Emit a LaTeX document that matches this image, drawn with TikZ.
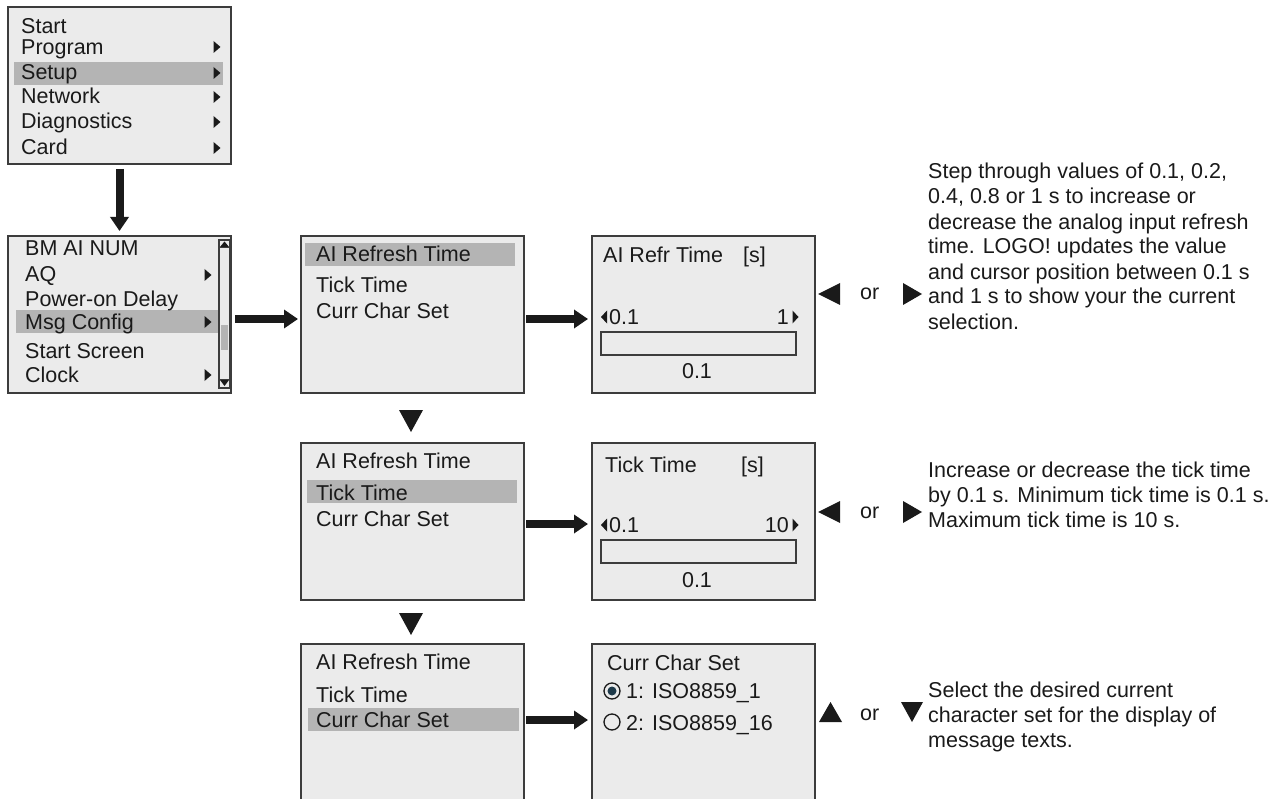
\documentclass[tikz,border=0pt]{standalone}
\usepackage{fontspec}
\setmainfont{Liberation Sans}
\usetikzlibrary{arrows.meta}
\definecolor{scr}{HTML}{EBEBEB}
\definecolor{hil}{HTML}{B4B4B4}
\definecolor{frm}{HTML}{3C3C3C}
\definecolor{ink}{HTML}{1A1A1A}
\definecolor{dotc}{HTML}{1E3A4A}
\begin{document}
\begin{tikzpicture}[x=1pt,y=-1pt,font=\fontsize{21.5}{25}\selectfont,
  screen/.style={draw=frm,line width=1.8pt,fill=scr,anchor=north west,inner sep=0pt,outer sep=0pt,minimum width=223pt,minimum height=157pt},
  txt/.style={anchor=base west,inner sep=0pt,text=ink},
  ctxt/.style={anchor=base,inner sep=0pt,text=ink},
  bigarrow/.style={draw=ink,line width=8pt,-{Triangle[width=18pt,length=14pt]}},
  hl/.style={fill=hil},
  tri/.style={fill=ink},
  bar/.style={draw=frm,line width=1.5pt,fill=scr},
  para/.style={anchor=base west,inner sep=0pt,align=left,text=ink,font=\fontsize{21.5}{25}\selectfont}]
\useasboundingbox[fill=white] (0,0) rectangle (1273,799);

% ---- screens
\node[screen] (b1) at (8,7) {};
\node[screen] (b2) at (8,236) {};
\node[screen] (b3) at (301,236) {};
\node[screen] (b4) at (592,236) {};
\node[screen] (b5) at (301,443) {};
\node[screen] (b6) at (592,443) {};
\node[screen] (b7) at (301,644) {};
\node[screen] (b8) at (592,644) {};

% ---- highlights
\fill[hl] (14,62) rectangle (223,85);
\fill[hl] (16,310) rectangle (218,333);
\fill[hl] (305,243) rectangle (515,266);
\fill[hl] (307,480) rectangle (517,503);
\fill[hl] (308,708) rectangle (519,731);

% ---- main menu
\node[txt] (m1) at (21,34) {Start};
\node[txt] (m2) at (21,55) {Program};
\node[txt] (m3) at (21,80) {Setup};
\node[txt] (m4) at (21,104) {Network};
\node[txt] (m5) at (21,129) {Diagnostics};
\node[txt] (m6) at (21,155) {Card};
\foreach \yy in {47,73,97,122,148}{
  \fill[tri] (213.5,\yy-6) -- (220.5,\yy) -- (213.5,\yy+6) -- cycle;}

% ---- setup menu
\node[txt] (s1) at (25,256) {BM AI NUM};
\node[txt] (s2) at (25,282) {AQ};
\node[txt] (s3) at (25,306) {Power-on Delay};
\node[txt] (s4) at (25,330) {Msg Config};
\node[txt] (s5) at (25,358) {Start Screen};
\node[txt] (s6) at (25,382) {Clock};
\foreach \yy in {275,322,375}{
  \fill[tri] (204.5,\yy-6) -- (211.5,\yy) -- (204.5,\yy+6) -- cycle;}
% scrollbar
\draw[frm,line width=1.2pt] (219,240) rectangle (230,388);
\fill[hil] (221,325) rectangle (228,350);
\draw[frm,line width=1pt] (219,248) -- (230,248);
\draw[frm,line width=1pt] (219,379) -- (230,379);
\fill[tri] (220,247) -- (229,247) -- (224.5,241.5) -- cycle;
\fill[tri] (220,380) -- (229,380) -- (224.5,386) -- cycle;

% ---- msg config menus
\node[txt] (a1) at (316,262) {AI Refresh Time};
\node[txt] (a2) at (316,293) {Tick Time};
\node[txt] (a3) at (316,318) {Curr Char Set};
\node[txt] (c1) at (316,468) {AI Refresh Time};
\node[txt] (c2) at (316,500) {Tick Time};
\node[txt] (c3) at (316,526) {Curr Char Set};
\node[txt] (d1) at (316,669) {AI Refresh Time};
\node[txt] (d2) at (316,702) {Tick Time};
\node[txt] (d3) at (316,727) {Curr Char Set};

% ---- AI Refr Time screen
\node[txt] (r1) at (603,263) {AI Refr Time};
\node[txt] (r2) at (743,263) {[s]};
\fill[tri] (607,310.5) -- (601,317) -- (607,323.5) -- cycle;
\node[txt] (r3) at (609,324) {0.1};
\node[anchor=base east,inner sep=0pt,text=ink] (r4) at (789,324) {1};
\fill[tri] (792.5,310.5) -- (798.5,317) -- (792.5,323.5) -- cycle;
\draw[bar] (601,332) rectangle (796,355);
\node[ctxt] (r5) at (697,378) {0.1};

% ---- Tick Time screen
\node[txt] (t1) at (605,472) {Tick Time};
\node[txt] (t2) at (741,472) {[s]};
\fill[tri] (607,518.5) -- (601,525) -- (607,531.5) -- cycle;
\node[txt] (t3) at (609,532) {0.1};
\node[anchor=base east,inner sep=0pt,text=ink] (t4) at (789,532) {10};
\fill[tri] (792.5,518.5) -- (798.5,525) -- (792.5,531.5) -- cycle;
\draw[bar] (601,540) rectangle (796,563);
\node[ctxt] (t5) at (697,587) {0.1};

% ---- Curr Char Set screen
\node[txt] (u1) at (607,670) {Curr Char Set};
\draw[ink,line width=1.3pt] (612,691) circle (8);
\fill[dotc] (612,691) circle (4.5);
\node[txt] (u2) at (626,698) {1: ISO8859\_1};
\draw[ink,line width=1.3pt] (612,722) circle (8);
\node[txt] (u3) at (626,730) {2: ISO8859\_16};

% ---- connectors
\draw[bigarrow,shorten <=5pt,shorten >=5pt] (b1.south) -- (b2.north);
\draw[bigarrow,shorten <=4pt,shorten >=3pt] ([yshift=-4.5pt]b2.east) -- ([yshift=-4.5pt]b3.west);
\draw[bigarrow,shorten <=2pt,shorten >=4pt] ([yshift=-4.5pt]b3.east) -- ([yshift=-4.5pt]b4.west);
\draw[bigarrow,shorten <=2pt,shorten >=4pt] ([yshift=-2.5pt]b5.east) -- ([yshift=-2.5pt]b6.west);
\draw[bigarrow,shorten <=2pt,shorten >=4pt] ([yshift=2.5pt]b7.east) -- ([yshift=2.5pt]b8.west);

% ---- down markers between menus
\fill[tri] (399,410) -- (423,410) -- (411,432) -- cycle;
\fill[tri] (399,613) -- (423,613) -- (411,635) -- cycle;

% ---- key hints
\fill[tri] (840,283) -- (818,294) -- (840,305) -- cycle;
\node[txt] (o1) at (860,300) {or};
\fill[tri] (903,283) -- (922,294) -- (903,305) -- cycle;
\fill[tri] (840,501) -- (818,512) -- (840,523) -- cycle;
\node[txt] (o2) at (860,518) {or};
\fill[tri] (903,501) -- (922,512) -- (903,523) -- cycle;
\fill[tri] (819,722) -- (842,722) -- (830.5,702) -- cycle;
\node[txt] (o3) at (860,720) {or};
\fill[tri] (901,702) -- (923,702) -- (912,722) -- cycle;

% ---- descriptions (anchored at the baseline of the last line)
\node[para] (p1) at (928,329) {Step through values of 0.1, 0.2,\\0.4, 0.8 or 1 s to increase or\\decrease the analog input refresh\\time. LOGO! updates the value\\and cursor position between 0.1 s\\and 1 s to show your the current\\selection.};
\node[para] (p2) at (928,527) {Increase or decrease the tick time\\by 0.1 s. Minimum tick time is 0.1 s.\\Maximum tick time is 10 s.};
\node[para] (p3) at (928,747) {Select the desired current\\character set for the display of\\message texts.};
\end{tikzpicture}
\end{document}
